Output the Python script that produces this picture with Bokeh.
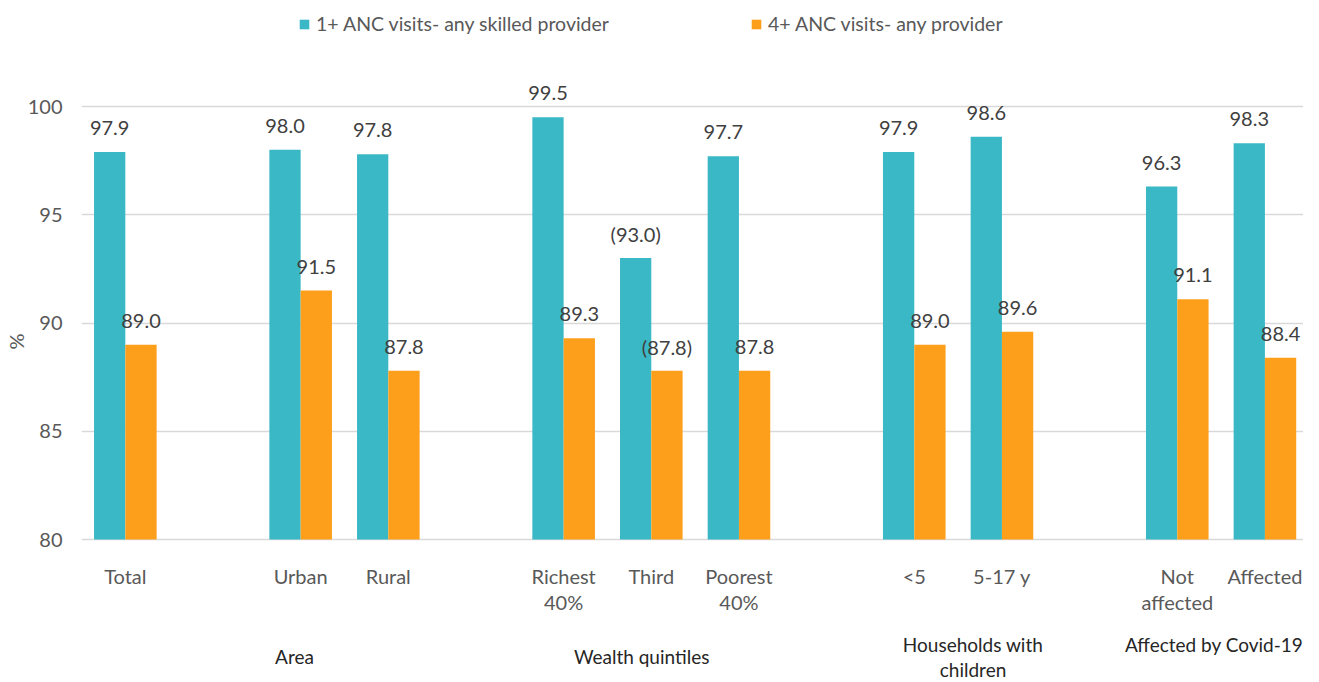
from bokeh.plotting import figure
from bokeh.models import Range1d, FixedTicker, ColumnDataSource, Legend, LegendItem
from bokeh.core.properties import value
from bokeh.embed import file_html
from bokeh.resources import INLINE

# ---- data ----
categories = ["Total", "Urban", "Rural", "Richest\n40%", "Third", "Poorest\n40%",
              "<5", "5-17 y", "Not\naffected", "Affected"]
slots = [0, 2, 3, 5, 6, 7, 9, 10, 12, 13]
anc1 = [97.9, 98.0, 97.8, 99.5, 93.0, 97.7, 97.9, 98.6, 96.3, 98.3]
anc4 = [89.0, 91.5, 87.8, 89.3, 87.8, 87.8, 89.0, 89.6, 91.1, 88.4]
anc1_labels = ["97.9", "98.0", "97.8", "99.5", "(93.0)", "97.7", "97.9", "98.6", "96.3", "98.3"]
anc4_labels = ["89.0", "91.5", "87.8", "89.3", "(87.8)", "87.8", "89.0", "89.6", "91.1", "88.4"]
groups = ["Area", "Wealth quintiles", "Households with\nchildren", "Affected by Covid-19"]
series = ["1+ ANC visits- any skilled provider", "4+ ANC visits- any provider"]
y_ticks = [80, 85, 90, 95, 100]

# ---- layout constants ----
group_x = [1.93, 5.89, 9.67, 12.42]
group_y = [75.15, 75.15, 75.66, 75.66]
cat_y = 78.85
BW = 0.357
OFF = BW / 2
TEAL = "#3BB8C6"
ORANGE = "#FD9F1A"
FONT = "Lato"
FS = "20px"

base = 80
src = ColumnDataSource(dict(
    x1=[s - OFF for s in slots], x4=[s + OFF for s in slots],
    anc1=anc1, anc4=anc4, l1=anc1_labels, l4=anc4_labels,
    cat=categories, xs=slots, cy=[cat_y] * len(slots),
))
gsrc = ColumnDataSource(dict(g=groups, x=group_x, y=group_y))

H = 682
p = figure(width=1303, height=H, output_backend="svg", toolbar_location=None,
           x_range=Range1d(-0.5, 13.44),
           y_range=Range1d(80 - (H - 539) / 21.65, 100 + 106 / 21.65),
           x_axis_location=None, min_border_left=73, min_border_right=0,
           min_border_top=0, min_border_bottom=0)
p.outline_line_color = None
p.xgrid.visible = False
p.ygrid.ticker = FixedTicker(ticks=y_ticks)
p.ygrid.grid_line_color = "#D9D9D9"
p.ygrid.grid_line_width = 1.3

ax = p.yaxis[0]
ax.ticker = FixedTicker(ticks=y_ticks)
ax.axis_line_color = None
ax.major_tick_line_color = None
ax.major_tick_out = 0
ax.major_tick_in = 0
ax.minor_tick_line_color = None
ax.minor_tick_out = 0
ax.major_label_standoff = 19
ax.major_label_text_font = FONT
ax.major_label_text_font_size = FS
ax.major_label_text_color = "#595959"
ax.axis_label = "%"
ax.axis_label_standoff = -3
ax.axis_label_text_font = FONT
ax.axis_label_text_font_size = FS
ax.axis_label_text_font_style = "normal"
ax.axis_label_text_color = "#595959"

r1 = p.vbar(x="x1", top="anc1", bottom=base, width=BW, source=src,
            fill_color=TEAL, line_color=None)
r4 = p.vbar(x="x4", top="anc4", bottom=base, width=BW, source=src,
            fill_color=ORANGE, line_color=None)

common = dict(text_font=value(FONT), text_font_size=FS, text_color="#404040",
              text_align="center", text_baseline="middle", y_offset=-24)
p.text(x="x1", y="anc1", text="l1", source=src, **common)
p.text(x="x4", y="anc4", text="l4", source=src, **common)

p.text(x="xs", y="cy", text="cat", source=src, text_font=value(FONT), text_font_size=FS,
       text_color="#595959", text_align="center", text_baseline="top", text_line_height=1.08)
p.text(x="x", y="y", text="g", source=gsrc, text_font=value(FONT), text_font_size="19px",
       text_color="#262626", text_align="center", text_baseline="top", text_line_height=1.07)

for r, name, loc in [(r1, series[0], (217, H - 12 - 23)), (r4, series[1], (669, H - 12 - 23))]:
    lg = Legend(items=[LegendItem(label=name, renderers=[r])], location=loc,
                glyph_width=12, glyph_height=12, label_standoff=6, padding=0, margin=0,
                border_line_color=None, background_fill_alpha=0,
                label_text_font=FONT, label_text_font_size="19.5px", label_text_color="#595959")
    p.add_layout(lg, "center")

open("out.html", "w").write(file_html(p, INLINE))
